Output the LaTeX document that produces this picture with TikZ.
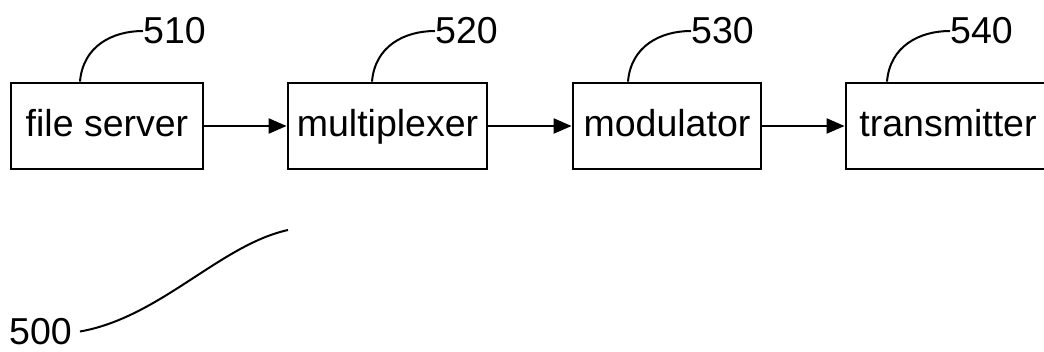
\documentclass[tikz,border=0pt]{standalone}
\usepackage{fontspec}
\setmainfont{Liberation Sans}
\usetikzlibrary{arrows.meta}
\begin{document}
\begin{tikzpicture}[x=1pt,y=-1pt,
  blockbox/.style={draw, line width=2.8pt, minimum height=86pt, inner sep=0pt,
    font=\fontsize{37.5}{40}\selectfont, text height=26pt, text depth=4pt},
  reflabel/.style={anchor=west, inner sep=0pt, font=\fontsize{37.5}{40}\selectfont},
  leader/.style={line width=2pt},
  flow/.style={line width=2.2pt, -{Triangle[length=18pt,width=15pt]}}]
\useasboundingbox (0,0) rectangle (1044,352);
\clip (0,0) rectangle (1044,352);
\node[blockbox, minimum width=192pt] (b1) at (107,126) {file server};
\node[blockbox, minimum width=199pt] (b2) at (387.5,126) {multiplexer};
\node[blockbox, minimum width=188pt] (b3) at (667,126) {modulator};
\node[blockbox, minimum width=204pt] (b4) at (948,126) {transmitter};
\draw[flow] (b1) -- (b2);
\draw[flow] (b2) -- (b3);
\draw[flow] (b3) -- (b4);
\node[reflabel] (l510) at (143,31) {510};
\node[reflabel] (l520) at (435,31) {520};
\node[reflabel] (l530) at (691,31) {530};
\node[reflabel] (l540) at (950,31) {540};
\node[reflabel] (l500) at (9,331.5) {500};
\draw[leader] ([xshift=-27pt]b1.north) .. controls +(3,-36) and +(-30,0) .. (l510.west);
\draw[leader] ([xshift=-15.5pt]b2.north) .. controls +(3,-36) and +(-30,0) .. (l520.west);
\draw[leader] ([xshift=-39pt]b3.north) .. controls +(3,-36) and +(-30,0) .. (l530.west);
\draw[leader] ([xshift=-61pt]b4.north) .. controls +(3,-36) and +(-30,0) .. (l540.west);
\coordinate (e500) at (288,230);
\draw[leader] ([xshift=8pt]l500.east) .. controls +(80,-14) and +(-68,15) .. (e500);
\end{tikzpicture}
\end{document}
